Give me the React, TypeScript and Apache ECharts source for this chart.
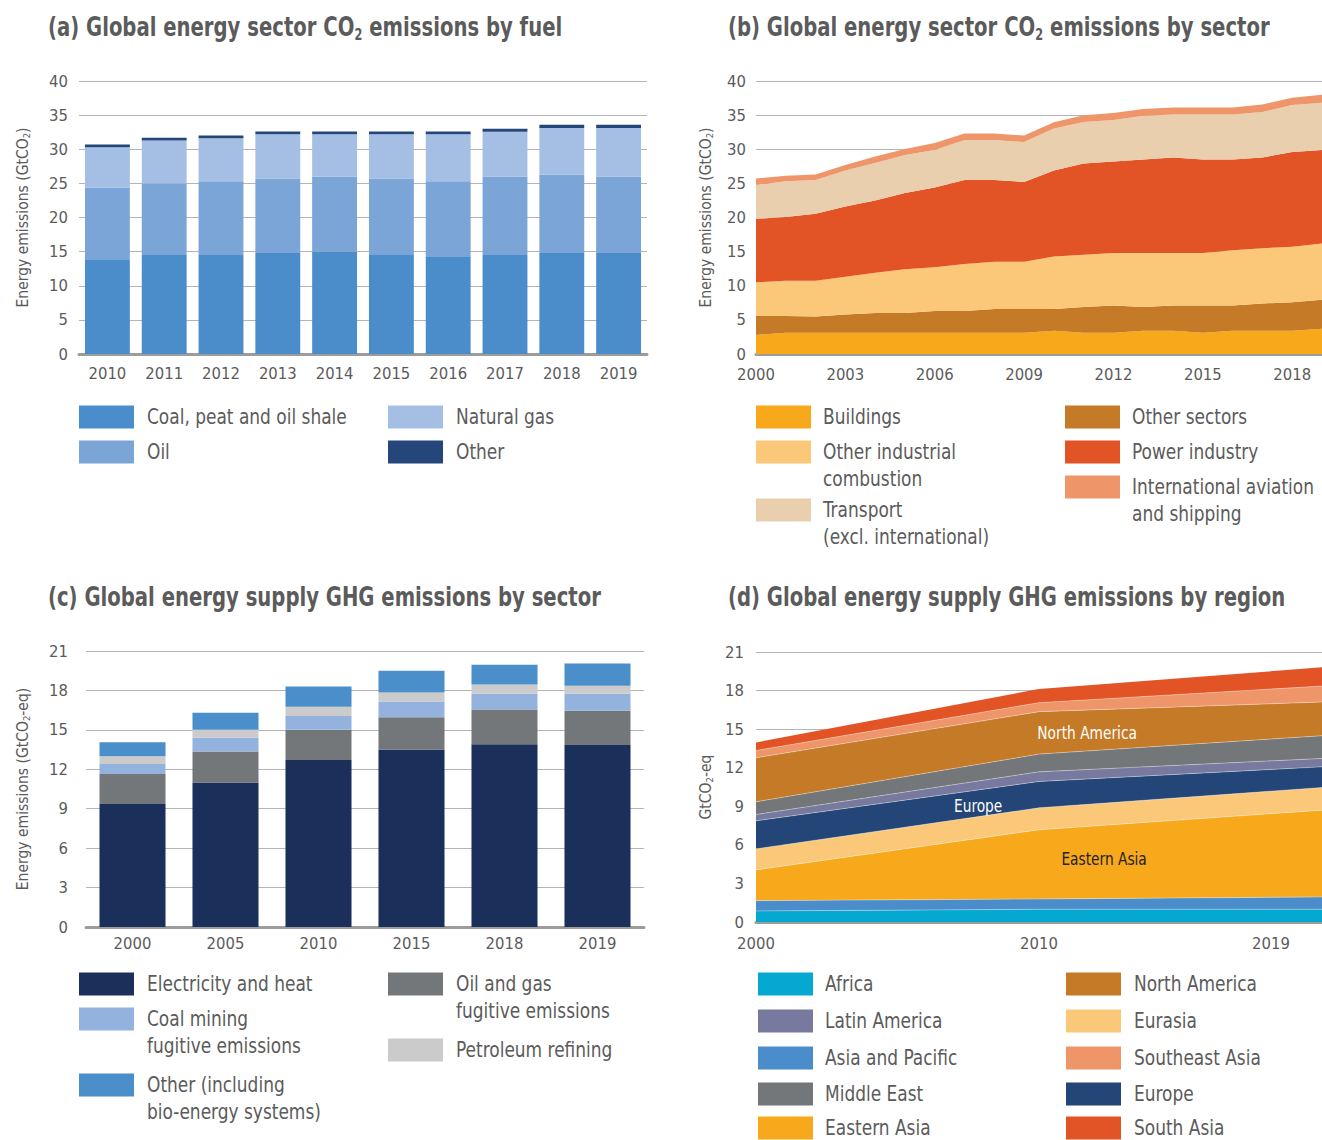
import React, { useEffect, useRef } from "react";
import * as echarts from "echarts";

// ---------- (a) Global energy sector CO2 emissions by fuel ----------
const fuelYears = ["2010", "2011", "2012", "2013", "2014", "2015", "2016", "2017", "2018", "2019"];
const coalPeatOilShale = [13.9, 14.5, 14.5, 14.8, 15.0, 14.5, 14.2, 14.5, 14.8, 14.8];
const oilFuel = [10.5, 10.5, 10.8, 10.9, 11.0, 11.2, 11.1, 11.5, 11.5, 11.2];
const naturalGas = [5.9, 6.3, 6.3, 6.5, 6.2, 6.5, 6.9, 6.55, 6.8, 7.1];
const otherFuel = [0.4, 0.4, 0.4, 0.4, 0.4, 0.4, 0.4, 0.45, 0.5, 0.5];

// ---------- (b) Global energy sector CO2 emissions by sector ----------
const sectorYears = [
  "2000", "2001", "2002", "2003", "2004", "2005", "2006", "2007", "2008", "2009",
  "2010", "2011", "2012", "2013", "2014", "2015", "2016", "2017", "2018", "2019",
];
const buildings = [2.8, 3.1, 3.1, 3.1, 3.1, 3.1, 3.1, 3.1, 3.1, 3.1, 3.4, 3.1, 3.1, 3.4, 3.4, 3.1, 3.4, 3.4, 3.4, 3.7];
const otherSectors = [2.77, 2.45, 2.4, 2.7, 2.9, 2.9, 3.2, 3.2, 3.5, 3.5, 3.2, 3.8, 4.0, 3.5, 3.7, 4.0, 3.7, 4.0, 4.2, 4.25];
const otherIndustrial = [4.93, 5.19, 5.24, 5.53, 5.9, 6.4, 6.4, 6.9, 6.9, 6.9, 7.7, 7.65, 7.7, 7.9, 7.7, 7.7, 8.1, 8.1, 8.1, 8.25];
const powerIndustry = [9.3, 9.33, 9.82, 10.27, 10.6, 11.2, 11.7, 12.3, 12.0, 11.7, 12.6, 13.35, 13.4, 13.7, 14.0, 13.7, 13.3, 13.3, 13.9, 13.7];
const transport = [4.96, 5.23, 4.94, 5.3, 5.5, 5.55, 5.5, 5.85, 5.85, 5.85, 6.15, 6.1, 6.1, 6.4, 6.3, 6.6, 6.6, 6.65, 6.9, 6.9];
const intlAviationShipping = [0.95, 0.8, 0.8, 0.8, 0.95, 0.9, 1.0, 0.95, 0.95, 0.95, 0.9, 1.0, 1.0, 1.0, 1.0, 1.0, 1.0, 1.1, 1.05, 1.2];

// ---------- (c) Global energy supply GHG emissions by sector ----------
const supplyYears = ["2000", "2005", "2010", "2015", "2018", "2019"];
const electricityHeat = [9.35, 11.0, 12.7, 13.5, 13.9, 13.85];
const oilGasFugitive = [2.3, 2.35, 2.3, 2.45, 2.65, 2.6];
const coalMiningFugitive = [0.75, 1.05, 1.05, 1.2, 1.2, 1.3];
const petroleumRefining = [0.6, 0.6, 0.7, 0.7, 0.7, 0.6];
const otherSupply = [1.05, 1.3, 1.55, 1.65, 1.5, 1.7];

// ---------- (d) Global energy supply GHG emissions by region ----------
const regionYears = ["2000", "2010", "2019"];
const africa = [0.86, 0.99, 0.99];
const asiaPacific = [0.8, 0.8, 0.96];
const easternAsia = [2.39, 5.38, 6.75];
const eurasia = [1.64, 1.71, 1.76];
const europe = [2.18, 2.05, 1.61];
const latinAmerica = [0.49, 0.75, 0.65];
const middleEast = [0.99, 1.38, 1.77];
const northAmerica = [3.42, 3.3, 2.62];
const southeastAsia = [0.57, 0.7, 1.24];
const southAsia = [0.63, 1.06, 1.46];

// Axis ticks
const ticksA = { min: 0, max: 40, interval: 5 };
const ticksC = { min: 0, max: 21, interval: 3 };

// ---------- styles ----------
const FONT = "'DejaVu Sans Condensed', 'Liberation Sans Narrow', 'Open Sans', sans-serif";
const GRAY = "#5b5b5b";

const C = {
  coal: "#4a8dca",
  oil: "#7aa5d6",
  gas: "#a5bee3",
  otherFuel: "#24467b",
  buildings: "#f7a81b",
  otherSectors: "#c47a27",
  otherIndustrial: "#fbc879",
  power: "#e25325",
  transport: "#e9cfae",
  intl: "#ee956a",
  elec: "#1a2f5a",
  oilGas: "#747779",
  coalMining: "#93b2de",
  refining: "#cbcbcb",
  otherSupply: "#4a8eca",
  africa: "#05a8d1",
  latAm: "#77799f",
  asiaPac: "#4a8dca",
  midEast: "#747779",
  eastAsia: "#f7a81b",
  northAm: "#c47a27",
  eurasia: "#fbc879",
  seAsia: "#ee956a",
  europe: "#234577",
  southAsia: "#e25325",
};

const GRIDS = [
  { left: 79, top: 81, width: 568, height: 273 },
  { left: 756, top: 81, width: 566, height: 273 },
  { left: 86, top: 651, width: 558, height: 276 },
  { left: 756, top: 652, width: 566, height: 270 },
];

const TITLES: [string, number, number][] = [
  ["(a) Global energy sector CO{sub|2} emissions by fuel", 48, 27],
  ["(b) Global energy sector CO{sub|2} emissions by sector", 728, 27],
  ["(c) Global energy supply GHG emissions by sector", 48, 597],
  ["(d) Global energy supply GHG emissions by region", 728, 597],
];

type LegendItem = [string, string, number, number, number];

const LEGENDS: LegendItem[] = [
  ["Coal, peat and oil shale", C.coal, 79, 147, 417],
  ["Oil", C.oil, 79, 147, 452],
  ["Natural gas", C.gas, 388, 456, 417],
  ["Other", C.otherFuel, 388, 456, 452],
  ["Buildings", C.buildings, 756, 823, 417],
  ["Other industrial\ncombustion", C.otherIndustrial, 756, 823, 452],
  ["Transport\n(excl. international)", C.transport, 756, 823, 510],
  ["Other sectors", C.otherSectors, 1065, 1132, 417],
  ["Power industry", C.power, 1065, 1132, 452],
  ["International aviation\nand shipping", C.intl, 1065, 1132, 487],
  ["Electricity and heat", C.elec, 79, 147, 984],
  ["Coal mining\nfugitive emissions", C.coalMining, 79, 147, 1019],
  ["Other (including\nbio-energy systems)", C.otherSupply, 79, 147, 1085],
  ["Oil and gas\nfugitive emissions", C.oilGas, 388, 456, 984],
  ["Petroleum refining", C.refining, 388, 456, 1050],
  ["Africa", C.africa, 758, 825, 984],
  ["Latin America", C.latAm, 758, 825, 1021],
  ["Asia and Pacific", C.asiaPac, 758, 825, 1058],
  ["Middle East", C.midEast, 758, 825, 1094],
  ["Eastern Asia", C.eastAsia, 758, 825, 1128],
  ["North America", C.northAm, 1066, 1134, 984],
  ["Eurasia", C.eurasia, 1066, 1134, 1021],
  ["Southeast Asia", C.seAsia, 1066, 1134, 1058],
  ["Europe", C.europe, 1066, 1134, 1094],
  ["South Asia", C.southAsia, 1066, 1134, 1128],
];

function yAxisOf(gridIndex: number, ticks: any, name: string, nameGap: number, margin: number) {
  return {
    type: "value",
    gridIndex,
    ...ticks,
    name,
    nameLocation: "middle",
    nameRotate: 90,
    nameGap,
    nameTextStyle: {
      fontFamily: FONT,
      fontSize: 15.5,
      color: GRAY,
      rich: { s: { fontFamily: FONT, fontSize: 9.5, color: GRAY, verticalAlign: "bottom", lineHeight: 9 } },
    },
    axisLine: { show: false },
    axisTick: { show: false },
    axisLabel: { fontFamily: FONT, fontSize: 16.5, color: GRAY, margin },
    splitLine: { lineStyle: { color: "#b4b4b4", width: 1 } },
  };
}

function xAxisOf(gridIndex: number, data: any[], boundaryGap: boolean, margin: number, extra: any = {}) {
  return {
    type: "category",
    gridIndex,
    data,
    boundaryGap,
    axisLine: { show: true, lineStyle: { color: "#9c9c9c", width: 3 } },
    axisTick: { show: false },
    axisLabel: { fontFamily: FONT, fontSize: 16.5, color: GRAY, margin, ...extra },
  };
}

function bar(name: string, data: number[], color: string, idx: number, stack: string, gap: string) {
  return {
    type: "bar",
    name,
    data,
    stack,
    xAxisIndex: idx,
    yAxisIndex: idx,
    barCategoryGap: gap,
    itemStyle: { color },
  };
}

function area(name: string, data: number[], color: string, idx: number, stack: string, edge: any = { width: 0 }) {
  return {
    type: "line",
    name,
    data,
    stack,
    xAxisIndex: idx,
    yAxisIndex: idx,
    symbol: "none",
    lineStyle: edge,
    areaStyle: { color, opacity: 1 },
    itemStyle: { color },
  };
}

const EDGE_D = { width: 1, color: "rgba(255,255,255,0.35)" };

export default function App() {
  const ref = useRef<HTMLDivElement>(null);

  useEffect(() => {
    document.body.style.margin = "0";
    if (!ref.current) return;
    const chart = echarts.init(ref.current, null, { renderer: "svg" });

    const option: any = {
      animation: false,
      backgroundColor: "#ffffff",
      grid: GRIDS,
      xAxis: [
        xAxisOf(0, fuelYears, true, 11),
        xAxisOf(1, sectorYears, false, 12, { interval: 2 }),
        xAxisOf(2, supplyYears, true, 8),
        xAxisOf(
          3,
          regionYears.map((y, i) => (i === regionYears.length - 1 ? { value: y, textStyle: { padding: [0, 102, 0, 0] } } : y)),
          false,
          13
        ),
      ],
      yAxis: [
        yAxisOf(0, ticksA, "Energy emissions (GtCO{s|2})", 48, 11),
        yAxisOf(1, ticksA, "Energy emissions (GtCO{s|2})", 42, 10),
        yAxisOf(2, ticksC, "Energy emissions (GtCO{s|2}-eq)", 55, 18),
        yAxisOf(3, ticksC, "GtCO{s|2}-eq", 42, 12),
      ],
      series: [
        bar("Coal, peat and oil shale", coalPeatOilShale, C.coal, 0, "a", "21%"),
        bar("Oil", oilFuel, C.oil, 0, "a", "21%"),
        bar("Natural gas", naturalGas, C.gas, 0, "a", "21%"),
        bar("Other", otherFuel, C.otherFuel, 0, "a", "21%"),

        area("Buildings", buildings, C.buildings, 1, "b"),
        area("Other sectors", otherSectors, C.otherSectors, 1, "b"),
        area("Other industrial combustion", otherIndustrial, C.otherIndustrial, 1, "b"),
        area("Power industry", powerIndustry, C.power, 1, "b"),
        area("Transport (excl. international)", transport, C.transport, 1, "b"),
        area("International aviation and shipping", intlAviationShipping, C.intl, 1, "b"),

        bar("Electricity and heat", electricityHeat, C.elec, 2, "c", "29%"),
        bar("Oil and gas fugitive emissions", oilGasFugitive, C.oilGas, 2, "c", "29%"),
        bar("Coal mining fugitive emissions", coalMiningFugitive, C.coalMining, 2, "c", "29%"),
        bar("Petroleum refining", petroleumRefining, C.refining, 2, "c", "29%"),
        bar("Other (including bio-energy systems)", otherSupply, C.otherSupply, 2, "c", "29%"),

        area("Africa", africa, C.africa, 3, "d", EDGE_D),
        area("Asia and Pacific", asiaPacific, C.asiaPac, 3, "d", EDGE_D),
        area("Eastern Asia", easternAsia, C.eastAsia, 3, "d", EDGE_D),
        area("Eurasia", eurasia, C.eurasia, 3, "d", EDGE_D),
        area("Europe", europe, C.europe, 3, "d", EDGE_D),
        area("Latin America", latinAmerica, C.latAm, 3, "d", EDGE_D),
        area("Middle East", middleEast, C.midEast, 3, "d", EDGE_D),
        area("North America", northAmerica, C.northAm, 3, "d", EDGE_D),
        area("Southeast Asia", southeastAsia, C.seAsia, 3, "d", EDGE_D),
        area("South Asia", southAsia, C.southAsia, 3, "d", { width: 0 }),
      ],
    };

    chart.setOption(option);

    const graphics: any[] = [];

    // Titles (condensed via scaleX to mimic the narrow face of the original)
    TITLES.forEach(([t, x, cy]) => {
      graphics.push({
        type: "text",
        x,
        y: cy,
        scaleX: 0.84,
        style: {
          text: t,
          fontFamily: FONT,
          fontSize: 26,
          fontWeight: "bold",
          fill: GRAY,
          lineHeight: 30,
          verticalAlign: "middle",
          rich: {
            sub: { fontFamily: FONT, fontSize: 15, fontWeight: "bold", fill: GRAY, verticalAlign: "bottom", lineHeight: 14 },
          },
        },
      });
    });

    // Legends
    LEGENDS.forEach(([label, color, ix, tx, cy]) => {
      const multi = label.indexOf("\n") >= 0;
      graphics.push({
        type: "rect",
        shape: { x: ix, y: cy - 11.5, width: 55, height: 23 },
        style: { fill: color },
      });
      graphics.push({
        type: "text",
        x: tx,
        y: multi ? cy - 13.5 : cy,
        scaleX: 0.9,
        style: {
          text: label,
          fontFamily: FONT,
          fontSize: 21,
          lineHeight: multi ? 27 : 20,
          fill: GRAY,
          verticalAlign: multi ? "top" : "middle",
        },
      });
    });

    // In-chart region labels for panel (d), positioned through the axis scales
    const toPx = (xi: number, y: number) => {
      const i0 = Math.floor(xi);
      const i1 = Math.min(i0 + 1, regionYears.length - 1);
      const f = xi - i0;
      const p0 = chart.convertToPixel({ gridIndex: 3 }, [i0, y]) as number[];
      const p1 = chart.convertToPixel({ gridIndex: 3 }, [i1, y]) as number[];
      return [p0[0] + (p1[0] - p0[0]) * f, p0[1]];
    };
    const areaLabels: [string, number, number, string][] = [
      ["North America", 1.17, 14.65, "#ffffff"],
      ["Europe", 0.785, 9.0, "#ffffff"],
      ["Eastern Asia", 1.23, 4.86, "#222222"],
    ];
    areaLabels.forEach(([t, xi, y, col]) => {
      const p = toPx(xi, y);
      graphics.push({
        type: "text",
        x: p[0],
        y: p[1],
        z: 100,
        scaleX: 0.9,
        style: { text: t, fontFamily: FONT, fontSize: 17, fill: col, align: "center", verticalAlign: "middle" },
      });
    });

    chart.setOption({ graphic: graphics });

    return () => chart.dispose();
  }, []);

  return <div ref={ref} style={{ width: 1322, height: 1140 }} />;
}
